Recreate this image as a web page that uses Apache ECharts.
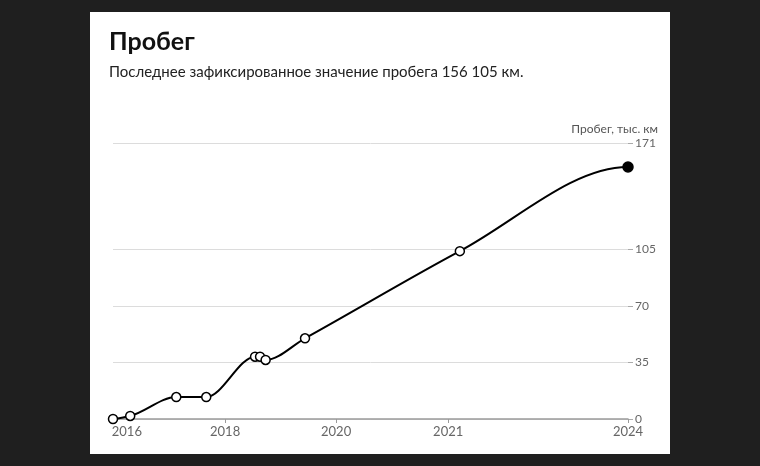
<!DOCTYPE html>
<html><head><meta charset="utf-8">
<script src="https://cdn.jsdelivr.net/npm/echarts@6/dist/echarts.min.js"></script>
<style>
html,body{margin:0;padding:0;background:#1f1f1f;}
#card{position:absolute;left:90px;top:12px;width:580px;height:442px;background:#fff;}
#chart{position:absolute;left:0;top:0;width:760px;height:466px;}
</style></head>
<body><div id="card"></div><div id="chart"></div>
<script>
// x in decimal years, y in thousand km
const readingX = [2015.98, 2016.29, 2017.12, 2017.66, 2018.54, 2018.63, 2018.73, 2019.44, 2022.23, 2025.26];
const readingY = [0, 1.9, 13.6, 13.6, 38.6, 38.6, 36.6, 50, 104, 156.105];
const xLabelValues = [2016.23, 2018, 2020, 2022.02, 2025.26];
const xLabelTexts = ['2016', '2018', '2020', '2021', '2024'];
const xTickValues = [2018, 2020, 2022.02, 2025.26];
const yTickValues = [0, 35, 70, 105, 171];

const chart = echarts.init(document.getElementById('chart'));
const pts = readingX.map((x, i) => [x, readingY[i]]);
const last = pts.length - 1;

// monotone cubic path through the points, in pixel space from the axis scales
function curvePath(api) {
  const P = pts.map(p => api.coord(p));
  const n = P.length;
  const h = [], s = [];
  for (let i = 0; i < n - 1; i++) {
    h.push(P[i + 1][0] - P[i][0]);
    s.push((P[i + 1][1] - P[i][1]) / h[i]);
  }
  const t = new Array(n).fill(0);
  for (let i = 1; i < n - 1; i++) {
    const s0 = s[i - 1], s1 = s[i];
    const p = (s0 * h[i] + s1 * h[i - 1]) / (h[i - 1] + h[i]);
    t[i] = (Math.sign(s0) + Math.sign(s1)) * Math.min(Math.abs(s0), Math.abs(s1), 0.5 * Math.abs(p)) || 0;
  }
  t[0] = 0; t[n - 1] = 0;
  let d = 'M' + P[0][0] + ' ' + P[0][1];
  for (let i = 0; i < n - 1; i++) {
    const dx = h[i] / 3;
    d += ' C' + (P[i][0] + dx) + ' ' + (P[i][1] + dx * t[i]) + ' ' +
      (P[i + 1][0] - dx) + ' ' + (P[i + 1][1] - dx * t[i + 1]) + ' ' +
      P[i + 1][0] + ' ' + P[i + 1][1];
  }
  return d;
}

chart.setOption({
  animation: false,
  title: {
    text: 'Пробег',
    subtext: 'Последнее зафиксированное значение пробега 156 105 км.',
    left: 104, top: 24, itemGap: 11,
    textStyle: {fontFamily: 'Lato', fontWeight: 'bold', fontSize: 25, color: '#111'},
    subtextStyle: {fontFamily: 'Lato', fontSize: 15, color: '#222'}
  },
  grid: {left: 113, right: 132, top: 143, bottom: 47},
  xAxis: {
    type: 'value', min: readingX[0], max: readingX[last],
    axisLine: {show: true, lineStyle: {color: '#9a9a9a', width: 1.5}},
    axisTick: {show: true, length: 4, customValues: xTickValues, lineStyle: {color: '#9a9a9a'}},
    axisLabel: {customValues: xLabelValues, margin: 6, color: '#666', fontFamily: 'Lato', fontSize: 13,
      formatter: v => { const i = xLabelValues.findIndex(t => Math.abs(t - v) < 1e-6); return i >= 0 ? xLabelTexts[i] : ''; }},
    splitLine: {show: false}
  },
  yAxis: {
    type: 'value', position: 'right', min: 0, max: 171,
    name: 'Пробег, тыс. км', nameLocation: 'end', nameGap: 8,
    nameTextStyle: {fontFamily: 'Lato', fontSize: 12, color: '#555', align: 'right', padding: [0, -30, 0, 0]},
    axisLine: {show: false},
    axisTick: {show: true, length: 5, customValues: yTickValues, lineStyle: {color: '#aaa'}},
    axisLabel: {customValues: yTickValues, margin: 7, color: '#666', fontFamily: 'Lato', fontSize: 12},
    splitLine: {show: true, lineStyle: {color: '#dcdcdc', width: 1}}
  },
  series: [{
    type: 'custom', data: pts, z: 2, silent: true,
    renderItem: (params, api) => params.dataIndex !== 0 ? null : {
      type: 'path',
      shape: {pathData: curvePath(api)},
      style: {fill: null, stroke: '#000', lineWidth: 2}
    }
  }, {
    type: 'scatter', z: 3,
    data: pts.map((p, i) => i === last ? {value: p, symbolSize: 10, itemStyle: {color: '#000', borderColor: '#000'}} : p),
    symbol: 'circle', symbolSize: 9,
    itemStyle: {color: '#fff', borderColor: '#000', borderWidth: 1.5, opacity: 1}
  }]
});
</script></body></html>
